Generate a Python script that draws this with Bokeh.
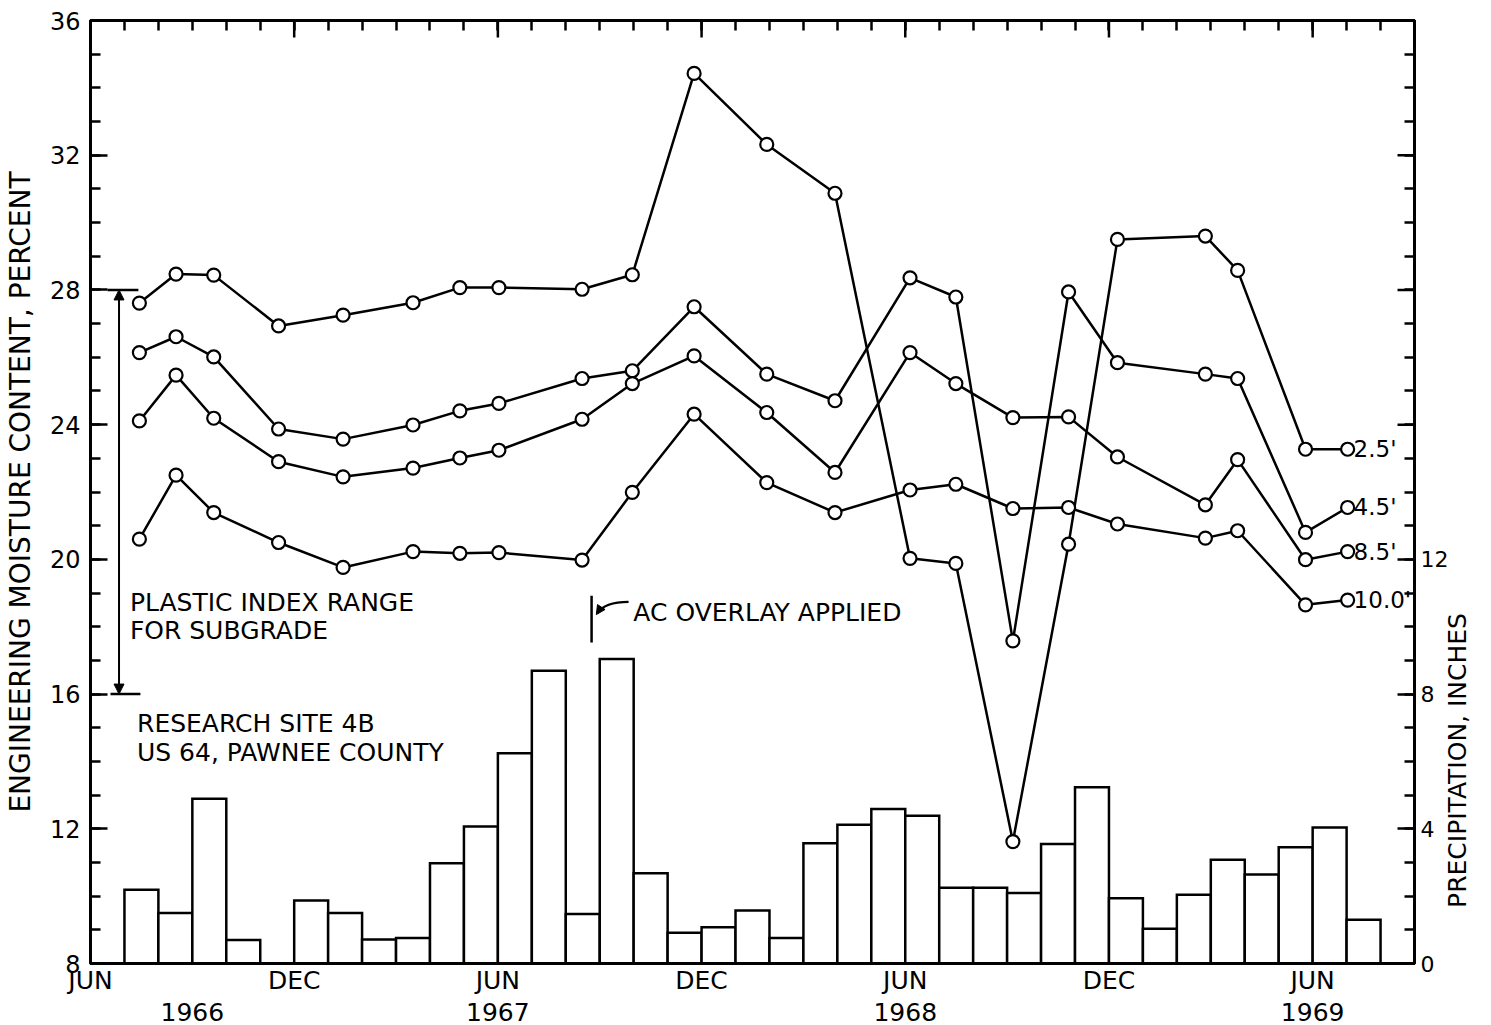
import math

from bokeh.plotting import figure
from bokeh.models import Range1d, LinearAxis, FixedTicker, Label, Arrow, NormalHead
from bokeh.embed import file_html
from bokeh.resources import INLINE

FONT = "DejaVu Sans"
INK = "black"

# Sampling times, in months counted from the start of June 1966
sample_month = [1.44, 2.52, 3.63, 5.54, 7.44, 9.50, 10.88, 12.03, 14.48, 15.96, 17.78,
                19.92, 21.93, 24.14, 25.49, 27.17, 28.81, 30.25, 32.84, 33.79, 35.79, 37.03]

# Engineering moisture content (percent) at four depths
moisture_2_5 = [27.61, 28.47, 28.44, 26.93, 27.25, 27.62, 28.07, 28.07, 28.02, 28.45, 34.43,
                32.32, 30.87, 20.03, 19.88, 11.62, 20.45, 29.50, 29.60, 28.58, 23.27, 23.27]
moisture_4_5 = [26.14, 26.61, 26.01, 23.87, 23.57, 23.99, 24.41, 24.63, 25.37, 25.60, 27.50,
                25.50, 24.71, 28.36, 27.79, 17.58, 27.94, 25.84, 25.50, 25.37, 20.80, 21.54]
moisture_8_5 = [24.11, 25.47, 24.19, 22.90, 22.45, 22.71, 23.01, 23.24, 24.16, 25.22, 26.04,
                24.36, 22.58, 26.14, 25.22, 24.21, 24.23, 23.04, 21.62, 22.96, 19.99, 20.23]
moisture_10_0 = [20.60, 22.50, 21.39, 20.50, 19.76, 20.23, 20.18, 20.20, 19.98, 21.99, 24.31,
                 22.28, 21.39, 22.06, 22.23, 21.51, 21.54, 21.05, 20.63, 20.85, 18.65, 18.79]
depth_labels = ["2.5'", "4.5'", "8.5'", "10.0'"]

# Monthly precipitation (inches), month 0 = June 1966
precip_month = list(range(39))
precip_in = [0.0, 2.19, 1.50, 4.89, 0.70, 0.0, 1.87, 1.50, 0.71, 0.76, 2.98, 4.07, 6.24,
             8.69, 1.47, 9.04, 2.68, 0.91, 1.08, 1.57, 0.76, 3.57, 4.12, 4.59, 4.39, 2.25,
             2.25, 2.09, 3.55, 5.23, 1.94, 1.03, 2.04, 3.08, 2.64, 3.45, 4.04, 1.30, 0.0]

month_ticks = [0, 6, 12, 18, 24, 30, 36]
month_names = ["JUN", "DEC", "JUN", "DEC", "JUN", "DEC", "JUN"]
year_ticks = [3, 12, 24, 36]
year_names = ["1966", "1967", "1968", "1969"]

plastic_range = (16, 28)
overlay_month = 14.76

X0, X1 = 0, 39
Y0, Y1 = 8, 36
P0, P1 = 0, 28
LONG_TICK, SHORT_TICK = 17, 10

p = figure(width=1491, height=1025, x_range=Range1d(X0, X1), y_range=Range1d(Y0, Y1),
           output_backend="svg", toolbar_location=None,
           min_border_left=90, min_border_right=77, min_border_top=20, min_border_bottom=62)
p.extra_y_ranges = {"precip": Range1d(P0, P1)}
p.grid.visible = False
p.outline_line_color = INK
p.outline_line_width = 3
p.background_fill_color = "white"
p.border_fill_color = "white"

# data units per screen pixel, for tick marks drawn as segments
frame_w, frame_h = 1491 - 90 - 77, 1025 - 20 - 62
x_per_px = (X1 - X0) / frame_w
y_per_px = (Y1 - Y0) / frame_h


def style_ticks(ax):
    ax.major_tick_in, ax.major_tick_out = LONG_TICK, 0
    ax.minor_tick_in, ax.minor_tick_out = SHORT_TICK, 0
    ax.major_tick_line_width = 2.5
    ax.minor_tick_line_width = 2.5
    ax.major_tick_line_color = INK
    ax.minor_tick_line_color = INK
    ax.axis_line_width = 3
    ax.axis_line_color = INK
    ax.major_label_text_font = FONT
    ax.major_label_text_color = INK


# Left axis: moisture content
ya = p.yaxis[0]
ya.ticker = FixedTicker(ticks=list(range(8, 37, 4)), minor_ticks=list(range(8, 37)))
style_ticks(ya)
ya.major_label_standoff = 10
ya.major_label_text_font_size = "24px"
ya.axis_label = "ENGINEERING MOISTURE CONTENT, PERCENT"
ya.axis_label_standoff = 10
ya.axis_label_text_font = FONT
ya.axis_label_text_font_size = "28px"
ya.axis_label_text_font_style = "normal"
ya.axis_label_text_color = INK

# Bottom axis: month names
xa = p.xaxis[0]
xa.ticker = FixedTicker(ticks=month_ticks)
style_ticks(xa)
xa.major_label_overrides = {t: n for t, n in zip(month_ticks, month_names)}
xa.major_tick_in = xa.minor_tick_in = 0
xa.major_label_standoff = 2
xa.major_label_text_font_size = "25px"

# Second bottom axis: years
yr = LinearAxis(ticker=FixedTicker(ticks=year_ticks),
                major_label_overrides={t: n for t, n in zip(year_ticks, year_names)})
yr.axis_line_color = None
yr.major_tick_line_color = None
yr.minor_tick_line_color = None
yr.major_label_standoff = -1
yr.major_label_text_font = FONT
yr.major_label_text_font_size = "25px"
yr.major_label_text_color = INK
p.add_layout(yr, "below")

# Top axis: a tick for every month
top = LinearAxis(ticker=FixedTicker(ticks=[], minor_ticks=list(range(X0, X1 + 1))))
style_ticks(top)
p.add_layout(top, "above")
# longer ticks every six months
p.segment(x0=month_ticks, y0=[Y1] * len(month_ticks), x1=month_ticks,
          y1=[Y1 - LONG_TICK * y_per_px] * len(month_ticks), line_color=INK, line_width=2.5)

# Right axis: precipitation, labelled 0-12 in.
ra = LinearAxis(y_range_name="precip",
                ticker=FixedTicker(ticks=[0, 4, 8, 12], minor_ticks=list(range(P0, P1 + 1))))
style_ticks(ra)
ra.major_label_standoff = 6
ra.major_label_text_font_size = "22px"
p.add_layout(ra, "right")
upper = [16, 20, 24]
p.segment(x0=[X1] * len(upper), y0=upper, x1=[X1 - LONG_TICK * x_per_px] * len(upper),
          y1=upper, y_range_name="precip", line_color=INK, line_width=2.5)

# Precipitation title; the rotated text runs upward from its anchor,
# so the anchor sits low enough to centre it on the 0-12 in. part of the scale
title_anchor = 1.65
rt = LinearAxis(y_range_name="precip", ticker=FixedTicker(ticks=[title_anchor]),
                major_label_overrides={title_anchor: "PRECIPITATION, INCHES"})
rt.axis_line_color = None
rt.major_tick_line_color = None
rt.minor_tick_line_color = None
rt.major_label_orientation = math.pi / 2
rt.major_label_standoff = 0
rt.major_label_text_font = FONT
rt.major_label_text_font_size = "25px"
rt.major_label_text_color = INK
p.add_layout(rt, "right")

# Precipitation bars
bars = [(m, v) for m, v in zip(precip_month, precip_in) if v > 0]
p.quad(left=[m for m, _ in bars], right=[m + 1 for m, _ in bars], bottom=0,
       top=[v for _, v in bars], y_range_name="precip",
       fill_color="white", line_color=INK, line_width=2.5, line_join="miter")

# Moisture series
series = [moisture_2_5, moisture_4_5, moisture_8_5, moisture_10_0]
for vals, name in zip(series, depth_labels):
    p.line(sample_month, vals, line_color=INK, line_width=2.5)
    p.scatter(sample_month, vals, marker="circle", size=13, fill_color="white",
              line_color=INK, line_width=2.2)
    p.add_layout(Label(x=sample_month[-1], y=vals[-1], x_offset=6, text=name,
                       text_baseline="middle", text_align="left", text_color=INK,
                       text_font=FONT, text_font_size="23px"))


def note(x, y, text):
    p.add_layout(Label(x=x, y=y, text=text, text_baseline="alphabetic", text_color=INK,
                       text_font=FONT, text_font_size="25px"))


# Plastic index range bracket
lo, hi = plastic_range
p.add_layout(Arrow(start=NormalHead(size=10, fill_color=INK, line_color=INK),
                   end=NormalHead(size=10, fill_color=INK, line_color=INK),
                   x_start=0.84, y_start=lo, x_end=0.84, y_end=hi,
                   line_width=2, line_color=INK))
p.segment(x0=[0.50, 0.59], y0=[hi, lo], x1=[1.41, 1.47], y1=[hi, lo],
          line_color=INK, line_width=2.5)
note(1.16, 18.71, "PLASTIC INDEX RANGE")
note(1.16, 17.88, "FOR SUBGRADE")

# Site caption
note(1.37, 15.12, "RESEARCH SITE 4B")
note(1.37, 14.27, "US 64, PAWNEE COUNTY")

# AC overlay marker
p.segment(x0=[overlay_month], y0=[17.53], x1=[overlay_month], y1=[18.92],
          line_color=INK, line_width=2.5)
p.quadratic(x0=[15.85], y0=[18.74], x1=[14.93], y1=[18.40], cx=[15.14], cy=[18.74],
            line_color=INK, line_width=2.2)
p.add_layout(Arrow(end=NormalHead(size=9, fill_color=INK, line_color=INK),
                   x_start=15.03, y_start=18.56, x_end=14.90, y_end=18.36,
                   line_width=2, line_color=INK))
note(15.99, 18.42, "AC OVERLAY APPLIED")

open("out.html", "w").write(file_html(p, INLINE))
